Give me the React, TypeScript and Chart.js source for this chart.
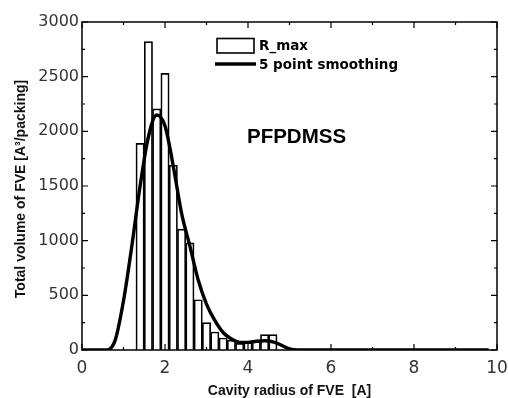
import React, { useEffect, useRef } from "react";
import { Chart, registerables } from "chart.js";

Chart.register(...registerables);

// Histogram bins (bin centres, width 0.2 Å)
const binCenters = [1.4, 1.6, 1.8, 2.0, 2.2, 2.4, 2.6, 2.8, 3.0, 3.2, 3.4, 3.6, 3.8, 4.0, 4.2, 4.4, 4.6];
const rMaxValues = [1890, 2820, 2205, 2530, 1690, 1105, 980, 460, 250, 165, 110, 90, 60, 80, 80, 140, 140];

// 5 point smoothing curve
const smoothX = [0, 0.2, 0.4, 0.6, 0.8, 1.0, 1.2, 1.4, 1.6, 1.8, 2.0, 2.2, 2.4, 2.6, 2.8, 3.0, 3.2, 3.4, 3.6, 3.8, 4.0, 4.2, 4.4, 4.6, 4.8, 5.0, 5.2, 5.4, 6.0, 7.0, 8.0, 9.0, 9.8];
const smoothY = [0, 0, 0, 0, 90, 450, 950, 1500, 1950, 2150, 2050, 1680, 1250, 950, 640, 420, 270, 160, 100, 70, 70, 80, 85, 75, 45, 10, 0, 0, 0, 0, 0, 0, 0];

const xTicks = [0, 2, 4, 6, 8, 10];
const yTicks = [0, 500, 1000, 1500, 2000, 2500, 3000];

const xTitle = "Cavity radius of FVE  [A]";
const yTitle = "Total volume of FVE [A\u00B3/packing]";
const sampleLabel = "PFPDMSS";
const legendBars = "R_max";
const legendLine = "5 point smoothing";

const decor = {
  id: "decor",
  afterDraw(chart: any) {
    const { ctx, chartArea: a, scales } = chart;
    const xs = scales.x;
    const ys = scales.y;
    ctx.save();
    ctx.strokeStyle = "#000";
    ctx.lineWidth = 1.5;
    ctx.strokeRect(a.left, a.top, a.right - a.left, a.bottom - a.top);
    // inward ticks
    ctx.lineWidth = 1.2;
    for (let v = 0; v <= 10; v += 1) {
      const x = xs.getPixelForValue(v);
      const len = v % 2 === 0 ? 6 : 3;
      ctx.beginPath();
      ctx.moveTo(x, a.bottom);
      ctx.lineTo(x, a.bottom - len);
      ctx.moveTo(x, a.top);
      ctx.lineTo(x, a.top + len);
      ctx.stroke();
    }
    for (let v = 0; v <= 3000; v += 250) {
      const y = ys.getPixelForValue(v);
      const len = v % 500 === 0 ? 6 : 3;
      ctx.beginPath();
      ctx.moveTo(a.left, y);
      ctx.lineTo(a.left + len, y);
      ctx.moveTo(a.right, y);
      ctx.lineTo(a.right - len, y);
      ctx.stroke();
    }
    // axis titles
    ctx.fillStyle = "#111";
    ctx.font = "bold 14px 'Liberation Sans', Arial, sans-serif";
    ctx.textAlign = "center";
    ctx.textBaseline = "alphabetic";
    ctx.fillText(xTitle, (a.left + a.right) / 2, 395);
    ctx.save();
    ctx.translate(21, 189);
    ctx.rotate(-Math.PI / 2);
    ctx.textBaseline = "middle";
    ctx.fillText(yTitle, 0, 0);
    ctx.restore();
    // sample label
    ctx.font = "bold 20.5px 'Liberation Sans', Arial, sans-serif";
    ctx.textAlign = "left";
    ctx.fillStyle = "#000";
    ctx.fillText(sampleLabel, 247, 143);
    // legend
    ctx.lineWidth = 1.6;
    ctx.strokeRect(217, 38.5, 37, 14.5);
    ctx.lineWidth = 3.5;
    ctx.beginPath();
    ctx.moveTo(215, 64);
    ctx.lineTo(256, 64);
    ctx.stroke();
    ctx.font = "bold 13.5px 'DejaVu Sans', sans-serif";
    ctx.textBaseline = "middle";
    ctx.fillText(legendBars, 259, 46);
    ctx.fillText(legendLine, 259, 65);
    ctx.restore();
  },
};

export default function App() {
  const ref = useRef<HTMLCanvasElement>(null);
  useEffect(() => {
    if (!ref.current) return;
    const chart = new Chart(ref.current, {
      type: "bar",
      data: {
        datasets: [
          {
            type: "line",
            label: legendLine,
            data: smoothX.map((x, i) => ({ x, y: smoothY[i] })),
            borderColor: "#000",
            borderWidth: 3.4,
            pointRadius: 0,
            cubicInterpolationMode: "monotone",
            fill: false,
            order: 0,
          } as any,
          {
            type: "bar",
            label: legendBars,
            data: binCenters.map((x, i) => ({ x, y: rMaxValues[i] })),
            backgroundColor: "#fff",
            borderColor: "#000",
            borderWidth: 1.7,
            barPercentage: 1,
            categoryPercentage: 1,
            order: 1,
          } as any,
        ],
      },
      options: {
        responsive: false,
        animation: false,
        layout: { padding: { top: 22, right: 11, left: 0, bottom: 0 } },
        plugins: { legend: { display: false }, tooltip: { enabled: false } },
        scales: {
          x: {
            type: "linear",
            min: 0,
            max: 10,
            offset: false,
            grid: { display: false, drawTicks: false, tickLength: 0 },
            border: { display: false },
            afterBuildTicks: (s: any) => {
              s.ticks = xTicks.map((v) => ({ value: v }));
            },
            afterFit: (s: any) => {
              s.height = 48;
              s.paddingLeft = 0;
              s.paddingRight = 0;
            },
            ticks: {
              color: "#333",
              padding: 8,
              font: { family: "'DejaVu Sans', sans-serif", size: 17 },
              maxRotation: 0,
              callback: (v: any) => String(v),
            },
          },
          y: {
            type: "linear",
            min: 0,
            max: 3000,
            grid: { display: false, drawTicks: false, tickLength: 0 },
            border: { display: false },
            afterBuildTicks: (s: any) => {
              s.ticks = yTicks.map((v) => ({ value: v }));
            },
            afterFit: (s: any) => {
              s.width = 82;
              s.paddingTop = 0;
              s.paddingBottom = 0;
            },
            ticks: {
              color: "#333",
              padding: 3,
              font: { family: "'DejaVu Sans', sans-serif", size: 16 },
              callback: (v: any) => String(v),
            },
          },
        },
      },
      plugins: [decor],
    });
    return () => chart.destroy();
  }, []);
  return (
    <div style={{ position: "fixed", left: 0, top: 0, width: 508, height: 398, background: "#fff" }}>
      <canvas ref={ref} width={508} height={398} style={{ display: "block" }} />
    </div>
  );
}
